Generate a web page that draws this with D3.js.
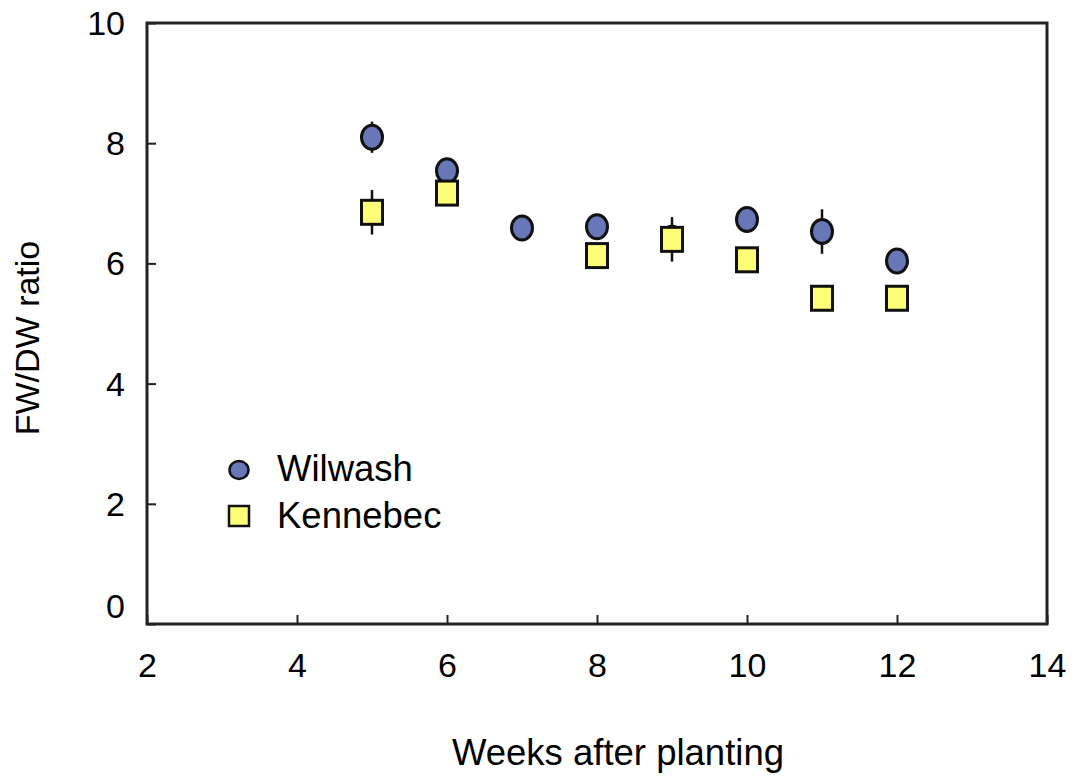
<!DOCTYPE html>
<html>
<head>
<meta charset="UTF-8">
<script src="https://d3js.org/d3.v7.min.js"></script>
<style>
  body { margin: 0; background: #fff; }
  text { font-family: "Liberation Sans", Arial, sans-serif; fill: #000; }
</style>
</head>
<body>
<script>
// data
var weeks = [5, 6, 7, 8, 9, 10, 11, 12];
var wilwash = [8.10, 7.54, 6.59, 6.61, 6.42, 6.73, 6.53, 6.04];
var wilwashErr = [0.26, 0.08, 0.05, 0.06, 0.10, 0.08, 0.37, 0.06];
var kenWeeks = [5, 6, 8, 9, 10, 11, 12];
var kennebec = [6.85, 7.17, 6.13, 6.40, 6.06, 5.42, 5.42];
var kennebecErr = [0.37, 0.08, 0.06, 0.37, 0.06, 0.05, 0.05];
var xTicks = [2, 4, 6, 8, 10, 12, 14];
var yTicks = [0, 2, 4, 6, 8, 10];

var W = 1077, H = 779;
var margin = {top: 23, right: 30, bottom: 155, left: 147};

var svg = d3.select("body").append("svg")
    .attr("width", W).attr("height", H);

var x = d3.scaleLinear().domain([2, 14]).range([margin.left, W - margin.right]);
var y = d3.scaleLinear().domain([0, 10]).range([H - margin.bottom, margin.top]);

// frame
svg.append("rect")
    .attr("x", x(2)).attr("y", y(10))
    .attr("width", x(14) - x(2)).attr("height", y(0) - y(10))
    .attr("fill", "none").attr("stroke", "#222").attr("stroke-width", 3);

// axes, ticks inward
var xAxis = svg.append("g")
    .attr("transform", "translate(0," + y(0) + ")")
    .call(d3.axisBottom(x).tickValues(xTicks).tickSize(-9).tickPadding(30).tickSizeOuter(0));
xAxis.select(".domain").remove();
xAxis.selectAll(".tick line").attr("stroke", "#222").attr("stroke-width", 2);
xAxis.selectAll(".tick text").style("font-size", "34px").attr("dy", "0.71em").attr("y", 29);

var yAxis = svg.append("g")
    .attr("transform", "translate(" + x(2) + ",0)")
    .call(d3.axisLeft(y).tickValues(yTicks).tickSize(-9).tickPadding(22).tickSizeOuter(0));
yAxis.select(".domain").remove();
yAxis.selectAll(".tick line").attr("stroke", "#222").attr("stroke-width", 2);
yAxis.selectAll(".tick text").style("font-size", "34px")
    .attr("dy", function(d) { return d === 0 ? "-0.18em" : "0.34em"; });

// axis titles
svg.append("text")
    .attr("x", 618).attr("y", 765)
    .attr("text-anchor", "middle")
    .style("font-size", "36.5px")
    .text("Weeks after planting");

svg.append("text")
    .attr("transform", "translate(39," + 338 + ") rotate(-90)")
    .attr("text-anchor", "middle")
    .style("font-size", "34px")
    .text("FW/DW ratio");

var wil = weeks.map(function(w, i) { return {w: w, v: wilwash[i], e: wilwashErr[i]}; });
var ken = kenWeeks.map(function(w, i) { return {w: w, v: kennebec[i], e: kennebecErr[i]}; });

// Wilwash error bars + circles
svg.append("g").selectAll("line").data(wil).enter().append("line")
    .attr("x1", function(d) { return x(d.w); }).attr("x2", function(d) { return x(d.w); })
    .attr("y1", function(d) { return y(d.v + d.e); }).attr("y2", function(d) { return y(d.v - d.e); })
    .attr("stroke", "#111").attr("stroke-width", 2.5);

svg.append("g").selectAll("ellipse").data(wil).enter().append("ellipse")
    .attr("cx", function(d) { return x(d.w); })
    .attr("cy", function(d) { return y(d.v); })
    .attr("rx", 10.5).attr("ry", 12)
    .attr("fill", "#6777b8").attr("stroke", "#111").attr("stroke-width", 3);

// Kennebec error bars + squares
svg.append("g").selectAll("line").data(ken).enter().append("line")
    .attr("x1", function(d) { return x(d.w); }).attr("x2", function(d) { return x(d.w); })
    .attr("y1", function(d) { return y(d.v + d.e); }).attr("y2", function(d) { return y(d.v - d.e); })
    .attr("stroke", "#111").attr("stroke-width", 2.5);

svg.append("g").selectAll("rect").data(ken).enter().append("rect")
    .attr("x", function(d) { return x(d.w) - 10.5; })
    .attr("y", function(d) { return y(d.v) - 12; })
    .attr("width", 21).attr("height", 24)
    .attr("fill", "#ffff77").attr("stroke", "#111").attr("stroke-width", 3);

// legend
var legend = svg.append("g").attr("transform", "translate(239,470)");
legend.append("ellipse")
    .attr("cx", 0).attr("cy", 0).attr("rx", 9.5).attr("ry", 9)
    .attr("fill", "#6777b8").attr("stroke", "#111").attr("stroke-width", 2.5);
legend.append("text").attr("x", 38).attr("y", 11).style("font-size", "36.5px").text("Wilwash");
legend.append("rect")
    .attr("x", -10).attr("y", 36).attr("width", 20).attr("height", 20)
    .attr("fill", "#ffff77").attr("stroke", "#111").attr("stroke-width", 2.5);
legend.append("text").attr("x", 38).attr("y", 58).style("font-size", "36.5px").text("Kennebec");
</script>
</body>
</html>
